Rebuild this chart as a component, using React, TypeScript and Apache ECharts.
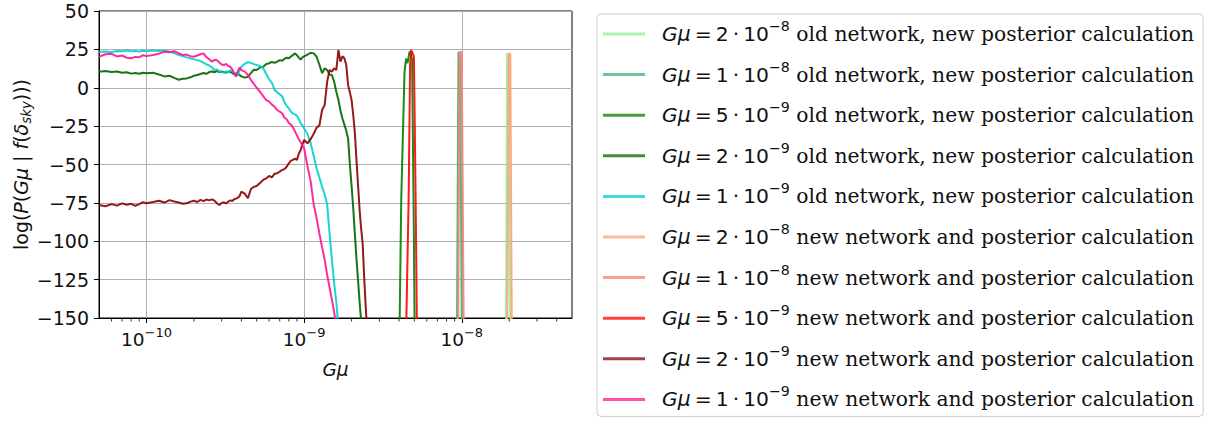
import React, { useEffect, useRef } from "react";
import * as echarts from "echarts";

// ---------- data ----------
const gmuGrid = [
  5e-11, 5.5e-11, 6e-11, 6.5e-11, 7e-11, 7.5e-11, 8e-11, 8.5e-11, 9e-11, 9.5e-11,
  1e-10, 1.1e-10, 1.2e-10, 1.3e-10, 1.4e-10, 1.5e-10, 1.6e-10, 1.7e-10, 1.8e-10, 1.9e-10,
  2e-10, 2.1e-10, 2.2e-10, 2.3e-10, 2.4e-10, 2.5e-10, 2.6e-10, 2.7e-10, 2.8e-10, 2.9e-10,
  3e-10, 3.1e-10, 3.2e-10, 3.3e-10, 3.4e-10, 3.5e-10, 3.6e-10, 3.7e-10, 3.8e-10, 3.9e-10,
  4e-10, 4.2e-10, 4.4e-10, 4.6e-10, 4.8e-10,
  5e-10, 5.25e-10, 5.5e-10, 5.75e-10, 6e-10, 6.25e-10, 6.5e-10, 6.75e-10, 7e-10, 7.25e-10,
  7.5e-10, 7.75e-10, 8e-10, 8.25e-10, 8.5e-10, 8.75e-10, 9e-10, 9.25e-10, 9.5e-10, 9.75e-10,
  1e-9, 1.05e-9, 1.1e-9, 1.15e-9, 1.2e-9, 1.25e-9, 1.3e-9, 1.35e-9, 1.4e-9, 1.45e-9,
  1.5e-9, 1.55e-9, 1.6e-9, 1.65e-9, 1.7e-9, 1.75e-9, 1.8e-9, 1.85e-9, 1.9e-9, 1.95e-9,
  2e-9, 2.05e-9, 2.1e-9, 2.15e-9, 2.2e-9, 2.25e-9, 2.3e-9, 2.35e-9, 2.4e-9, 2.45e-9, 2.5e-9,
];

// old network, Gμ = 1e-9 (values on gmuGrid prefix)
const old1e9Y = [
  23.3, 23.6, 23.2, 24, 23.7, 24.2, 23.8, 24, 23.6, 24.1,
  23.8, 24.2, 23.9, 24.3, 23.5, 22.6, 21.3, 20.6, 19.8, 19.2,
  18.5, 18, 17.4, 16.3, 15.2, 14.5, 13.2, 11.6, 11.9, 10.8,
  10.2, 9.8, 10.6, 10.1, 11.3, 11, 9.4, 8.6, 8.3, 11.8,
  13.5, 15.6, 16.6, 16.2, 15.4,
  14.8, 14.2, 12.7, 9, 5.5, 3.2, -1.5, -3, -4.2, -5.5,
  -9.5, -11.8, -13.5, -15.6, -16.8, -17.4, -18.2, -20.5, -23, -24.5,
  -26.5, -30, -36, -44.5, -52.5, -58.5, -64.5, -69.5, -76, -95,
  -112, -127, -140, -156,
];

// new network, Gμ = 1e-9
const new1e9Y = [
  20.2, 21.8, 22.1, 20.4, 21, 19.6, 19.2, 20.1, 19.8, 21.2,
  20.6, 21.4, 22.2, 23.5, 23.1, 23.8, 22.5, 21.3, 21.6, 20.6,
  20.2, 21, 21.8, 22.4, 20, 18.5, 17, 18.2, 18, 16.5,
  15.2, 14.8, 15.5, 14.2, 13.7, 12, 9.4, 7.2, 11, 13.2,
  11.5, 10.5, 8.5, 5, 2.5,
  0, -2.6, -5.5, -8, -9, -11, -12.4, -14.5, -15.6, -16.6,
  -19.5, -20.5, -23, -24, -26, -28.5, -31, -33.5, -35.5, -37.5,
  -39.5, -51, -61, -76, -85, -95, -104, -112, -122, -130,
  -138, -146, -156,
];

// old network, Gμ = 2e-9
const old2e9Y = [
  10.5, 10.9, 10.2, 10.6, 9.8, 10.1, 9.2, 9.6, 9.1, 9.8,
  9.4, 9.8, 8.6, 7.4, 7.8, 6.4, 5.2, 5.8, 6.1, 6.8,
  7.8, 8.3, 9, 9.6, 9.1, 10.2, 10.6, 10.1, 10.8, 10.3,
  10.6, 10.2, 9.8, 10.5, 10.4, 9.6, 8.6, 9.4, 9.2, 8.2,
  7.4, 6.6, 7.2, 9.5, 11.8,
  11.6, 13.2, 13.7, 15.4, 16, 16.8, 16.2, 17, 18, 17.6,
  18.8, 19.6, 19.2, 20.4, 21.3, 22.4, 21.2, 19.6, 18.4, 19.8,
  20.5, 21.6, 22.8, 22.4, 20.2, 15, 9.4, 12.7, 11.5, 8.6,
  8.3, 4, -2.6, -8, -15, -20, -24, -28, -33, -50,
  -64, -79, -96, -112, -126, -140, -152, -162,
];

// new network, Gμ = 2e-9
const new2e9Y = [
  -76.4, -77.2, -75.8, -76.8, -75.3, -76.2, -75.6, -76.9, -75.8, -74.6,
  -75.2, -74.4, -73.6, -74.8, -73.2, -74.1, -74.8, -75.6, -75.3, -74.2,
  -73.6, -74.4, -73, -73.9, -72.8, -73.4, -72.7, -73.6, -75.2, -76.4,
  -75, -74.6, -75.4, -74.2, -73.4, -73.8, -72.6, -72.2, -71.6, -70.5,
  -67.7, -69, -72, -66, -64.5,
  -64, -62, -60, -59, -57.5, -58.4, -56, -55.7, -54.6, -53.6,
  -53, -51.5, -49.2, -47.5, -47, -46.2, -47, -43, -40.6, -37,
  -34, -36.2, -33.5, -30, -26, -24.5, -14.5, -11.2, 4, 11.6,
  10.5, 12.7, 11.5, 24.6, 17, 20.5, 19.2, 14.8, 1.8, -3,
  -8, -18, -30, -48, -64, -80, -92, -101, -122, -140, -156,
];

// narrow peaks
const old5e9X = [4.03e-9, 4.13e-9, 4.33e-9, 4.43e-9, 4.53e-9, 4.66e-9, 4.77e-9, 4.84e-9, 4.97e-9, 5.02e-9];
const old5e9Y = [-156, -73, 10, 19, 16, 23.5, 22, 18, -100, -156];
const new5e9X = [4.44e-9, 4.6e-9, 4.7e-9, 4.76e-9, 4.86e-9, 4.97e-9, 5.08e-9, 5.14e-9, 5.19e-9];
const new5e9Y = [-156, -73, 15, 24.6, 23, 20, -60, -110, -156];
const old1e8X = [9.32e-9, 9.52e-9, 9.77e-9, 9.99e-9];
const old1e8Y = [-156, 23.3, 20, -156];
const new1e8X = [9.49e-9, 9.7e-9, 9.99e-9, 1.028e-8];
const new1e8Y = [-156, 23.5, 23, -156];
const old2e8X = [1.91e-8, 1.938e-8, 1.987e-8, 2.031e-8];
const old2e8Y = [-156, 22.4, 20, -156];
const new2e8X = [1.944e-8, 1.987e-8, 2.031e-8, 2.076e-8];
const new2e8Y = [-156, 22.4, 22, -156];

// legend text pieces
const coefficients = ["2", "1", "5", "2", "1", "2", "1", "5", "2", "1"];
const exponents = ["−8", "−8", "−9", "−9", "−9", "−8", "−8", "−9", "−9", "−9"];
const descriptions = [
  "old network, new posterior calculation",
  "old network, new posterior calculation",
  "old network, new posterior calculation",
  "old network, new posterior calculation",
  "old network, new posterior calculation",
  "new network and posterior calculation",
  "new network and posterior calculation",
  "new network and posterior calculation",
  "new network and posterior calculation",
  "new network and posterior calculation",
];
const baseColors = [
  [144, 238, 144], // lightgreen
  [60, 179, 113], // mediumseagreen
  [0, 128, 0], // green
  [0, 100, 0], // darkgreen
  [0, 206, 209], // darkturquoise
  [255, 160, 122], // lightsalmon
  [250, 128, 114], // salmon
  [255, 0, 0], // red
  [139, 0, 0], // darkred
  [255, 20, 147], // deeppink
];

const xMajorTicks = [1e-10, 1e-9, 1e-8];
const xMinorTicks = [
  6e-11, 7e-11, 8e-11, 9e-11,
  2e-10, 3e-10, 4e-10, 5e-10, 6e-10, 7e-10, 8e-10, 9e-10,
  2e-9, 3e-9, 4e-9, 5e-9, 6e-9, 7e-9, 8e-9, 9e-9,
  2e-8, 3e-8, 4e-8,
];

const X_MIN = 5e-11;
const X_MAX = 5e-8;
const Y_MIN = -150;
const Y_MAX = 50;

// ---------- build ----------
const names = coefficients.map((c, i) => `Gμ = ${c}·10^${exponents[i]} ${descriptions[i]}`);

const seriesData: number[][][] = [
  old2e8X.map((x, i) => [x, old2e8Y[i]]),
  old1e8X.map((x, i) => [x, old1e8Y[i]]),
  old5e9X.map((x, i) => [x, old5e9Y[i]]),
  old2e9Y.map((y, i) => [gmuGrid[i], y]),
  old1e9Y.map((y, i) => [gmuGrid[i], y]),
  new2e8X.map((x, i) => [x, new2e8Y[i]]),
  new1e8X.map((x, i) => [x, new1e8Y[i]]),
  new5e9X.map((x, i) => [x, new5e9Y[i]]),
  new2e9Y.map((y, i) => [gmuGrid[i], y]),
  new1e9Y.map((y, i) => [gmuGrid[i], y]),
];

const rgba = (c: number[], a: number) => `rgba(${c[0]},${c[1]},${c[2]},${a})`;

const legendRich: Record<string, string> = {};
names.forEach((n, i) => {
  legendRich[n] = `{g|Gμ}{m|\u2009=\u2009${coefficients[i]}\u2009·\u200910}{s|${exponents[i]}}{d| ${descriptions[i]}}`;
});

const FONT_SANS = "DejaVu Sans";
const FONT_SERIF = "DejaVu Serif";
const LFS = 20.3;
const XFS = 18.5;
const YFS = 19;

export default function App() {
  const ref = useRef<HTMLDivElement>(null);
  useEffect(() => {
    if (!ref.current) return;
    const chart = echarts.init(ref.current, undefined, { renderer: "svg" });
    const option: any = {
      animation: false,
      backgroundColor: "#ffffff",
      grid: {
        left: 99,
        right: 636,
        top: 11,
        bottom: 105,
        show: true,
        borderColor: "#000",
        borderWidth: 1,
        backgroundColor: "transparent",
      },
      xAxis: {
        type: "log",
        logBase: 10,
        min: X_MIN,
        max: X_MAX,
        position: "bottom",
        axisLine: { show: true, onZero: false, lineStyle: { color: "#000", width: 1 } },
        axisTick: {
          show: true,
          length: 5,
          customValues: xMajorTicks,
          lineStyle: { color: "#000", width: 1 },
        },
        axisLabel: {
          customValues: xMajorTicks,
          margin: 8,
          color: "#111",
          formatter: (v: number) => `{b|10}{s|−${Math.abs(Math.round(Math.log10(v)))}}`,
          rich: {
            b: { fontFamily: FONT_SANS, fontSize: XFS, lineHeight: 26, color: "#111" },
            s: { fontFamily: FONT_SANS, fontSize: 13, lineHeight: 15, verticalAlign: "top", color: "#111" },
          },
        },
        splitLine: { show: true, lineStyle: { color: "#b0b0b0", width: 1 } },
        name: "Gμ",
        nameLocation: "middle",
        nameGap: 42,
        nameTextStyle: { fontFamily: FONT_SANS, fontStyle: "italic", fontSize: XFS, color: "#111" },
      },
      yAxis: {
        type: "value",
        min: Y_MIN,
        max: Y_MAX,
        interval: 25,
        axisLine: { show: true, lineStyle: { color: "#000", width: 1 } },
        axisTick: { show: true, length: 5, lineStyle: { color: "#000", width: 1 } },
        axisLabel: {
          margin: 10,
          fontFamily: FONT_SANS,
          fontSize: YFS,
          color: "#111",
          formatter: (v: number) => String(v).replace("-", "−"),
        },
        splitLine: { show: true, lineStyle: { color: "#b0b0b0", width: 1 } },
        name: "{n|log(}{i|P}{n|(}{i|Gμ}{n| | }{i|f}{n|(}{i|δ}{sub|sky}{n|)))}",
        nameLocation: "middle",
        nameRotate: 90,
        nameGap: 62,
        nameTextStyle: {
          color: "#111",
          rich: {
            n: { fontFamily: FONT_SANS, fontSize: 19, lineHeight: 24, color: "#111" },
            i: { fontFamily: FONT_SANS, fontStyle: "italic", fontSize: 19, lineHeight: 24, color: "#111" },
            sub: { fontFamily: FONT_SANS, fontStyle: "italic", fontSize: 13.3, lineHeight: 15, verticalAlign: "bottom", color: "#111" },
          },
        },
      },
      legend: {
        orient: "vertical",
        left: 597,
        top: 14,
        padding: [5, 9, 7, 6],
        itemGap: 15.6,
        itemWidth: 42,
        itemHeight: 3,
        icon: "rect",
        selectedMode: false,
        backgroundColor: "#ffffff",
        borderColor: "#cccccc",
        borderWidth: 1,
        borderRadius: 4,
        data: names.map((n, i) => ({ name: n, itemStyle: { color: rgba(baseColors[i], 0.75) } })),
        formatter: (n: string) => legendRich[n],
        textStyle: {
          padding: [0, 0, 0, 12],
          color: "#111",
          rich: {
            g: { fontFamily: FONT_SANS, fontStyle: "italic", fontSize: LFS, lineHeight: 30, color: "#111" },
            m: { fontFamily: FONT_SANS, fontSize: LFS, lineHeight: 30, color: "#111" },
            s: { fontFamily: FONT_SANS, fontSize: 14.2, lineHeight: 18, verticalAlign: "top", color: "#111" },
            d: { fontFamily: FONT_SERIF, fontSize: LFS, lineHeight: 30, color: "#111" },
          },
        },
      },
      series: [
        ...names.map((n, i) => ({
          type: "line",
          name: n,
          data: seriesData[i],
          symbol: "none",
          showSymbol: false,
          clip: true,
          lineStyle: { width: 2, color: rgba(baseColors[i], 0.9) },
          itemStyle: { color: rgba(baseColors[i], 0.9) },
          emphasis: { disabled: true },
        })),
        {
          type: "custom",
          silent: true,
          clip: false,
          data: xMinorTicks.map((v) => [v, Y_MIN]),
          renderItem: (_p: any, api: any) => {
            const pt = api.coord([api.value(0), api.value(1)]);
            return {
              type: "line",
              shape: { x1: pt[0], y1: pt[1], x2: pt[0], y2: pt[1] + 3.5 },
              style: { stroke: "#000", lineWidth: 0.8 },
            };
          },
        },
      ],
    };
    chart.setOption(option);
    return () => chart.dispose();
  }, []);
  return (
    <div
      ref={ref}
      style={{ position: "absolute", left: 0, top: 0, width: 1208, height: 423, background: "#fff" }}
    />
  );
}
